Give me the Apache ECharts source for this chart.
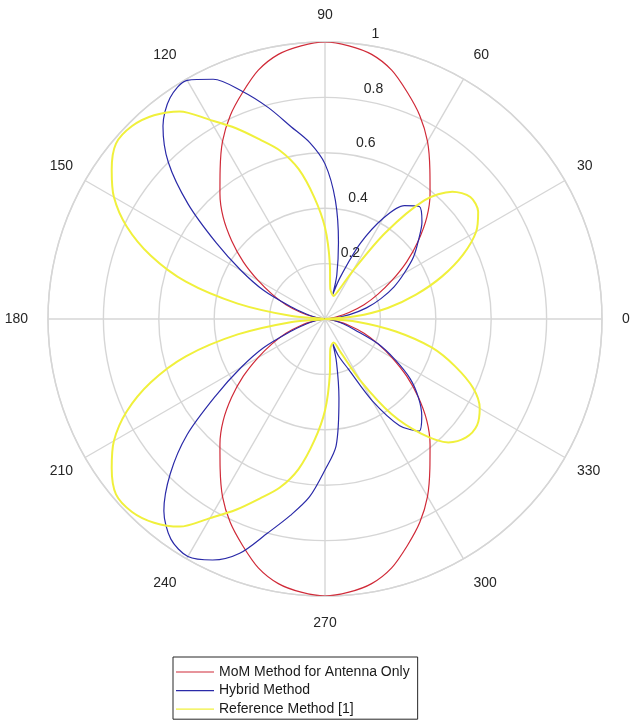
<!DOCTYPE html>
<html>
<head>
<meta charset="utf-8">
<script src="https://cdn.jsdelivr.net/npm/echarts@6/dist/echarts.min.js"></script>
<style>
html, body { margin: 0; padding: 0; background: #fff; }
#main { width: 633px; height: 721px; }
</style>
</head>
<body>
<div id="main"></div>
<script>
// angles in degrees, radius normalised to 1
var angles = [0,5,10,15,20,25,30,35,40,45,50,55,60,65,70,75,80,85,90,
  95,100,105,110,115,120,125,130,135,140,145,150,155,160,165,170,175,180,
  185,190,195,200,205,210,215,220,225,230,235,240,245,250,255,260,265,270,
  275,280,285,290,295,300,305,310,315,320,325,330,335,340,345,350,355,360];

// MoM Method for Antenna Only
var momR = [0,0.01,0.04,0.09,0.15,0.21,0.28,0.36,0.44,0.52,0.59,0.66,0.74,0.81,0.87,0.93,0.97,0.99,1.0,
  0.99,0.97,0.93,0.87,0.81,0.74,0.66,0.59,0.52,0.44,0.36,0.28,0.21,0.15,0.09,0.04,0.01,0,
  0.01,0.04,0.09,0.15,0.21,0.28,0.36,0.44,0.52,0.59,0.66,0.74,0.81,0.87,0.93,0.97,0.99,1.0,
  0.99,0.97,0.93,0.87,0.81,0.74,0.66,0.59,0.52,0.44,0.36,0.28,0.21,0.15,0.09,0.04,0.01,0];

// Hybrid Method (extra points at the two narrow nulls)
var hybridAngles = [0,5,10,15,20,25,30,35,40,45,50,55,60,65,70,72.5,75,80,85,90,
  95,100,105,110,115,120,125,130,135,140,145,150,155,160,165,170,175,180,
  185,190,195,200,205,210,215,220,225,230,235,240,245,250,255,260,265,270,
  275,280,285,287.5,290,295,300,305,310,315,320,325,330,335,340,345,350,355,360];
var hybridR = [0,0.035,0.09,0.155,0.215,0.275,0.33,0.39,0.44,0.495,0.53,0.5,0.42,0.3,0.16,0.093,0.165,0.28,0.43,0.56,
  0.64,0.705,0.79,0.875,0.955,0.995,0.975,0.91,0.8,0.645,0.48,0.35,0.245,0.135,0.07,0.035,0.012,0,
  0.012,0.035,0.07,0.135,0.245,0.35,0.48,0.65,0.79,0.905,0.97,0.99,0.96,0.9,0.8,0.72,0.645,0.545,
  0.46,0.29,0.16,0.094,0.14,0.2,0.34,0.47,0.528,0.494,0.44,0.375,0.29,0.21,0.115,0.07,0.035,0.01,0];

// Reference Method [1]
var refR = [0,0.11,0.23,0.34,0.45,0.55,0.63,0.675,0.685,0.65,0.56,0.38,0.2,0.11,0.088,0.095,0.11,0.2,0.33,
  0.44,0.55,0.63,0.69,0.76,0.83,0.915,0.96,0.985,0.985,0.94,0.88,0.79,0.67,0.52,0.32,0.12,0,
  0.12,0.32,0.52,0.67,0.79,0.88,0.94,0.985,0.985,0.96,0.915,0.83,0.76,0.69,0.63,0.55,0.44,0.33,
  0.2,0.11,0.095,0.09,0.13,0.26,0.42,0.54,0.63,0.665,0.67,0.645,0.59,0.5,0.4,0.26,0.12,0];

var seriesNames = ['MoM Method for Antenna Only', 'Hybrid Method', 'Reference Method [1]'];
var seriesColors = ['#d02a38', '#2a2aa8', '#f0f03c'];

function pairs(rs, as) {
  return as.map(function (a, i) { return [rs[i], a]; });
}

var font = 'Liberation Sans, Arial, Helvetica, sans-serif';
var textColor = '#262626';
var gridColor = '#d6d6d6';
var center = [325, 319];
var R = 277;

// label-only angle axis (no lines)
function labelAngleAxis(idx, start, margin, keep) {
  return {
    polarIndex: idx,
    type: 'value',
    min: 0, max: 360, interval: 30,
    startAngle: start,
    clockwise: false,
    axisLine: { show: false },
    axisTick: { show: false },
    splitLine: { show: false },
    axisLabel: {
      show: !!keep, margin: margin, color: textColor, fontSize: 14, fontFamily: font,
      formatter: function (v) { return keep && keep(v) ? String(v) : ''; }
    }
  };
}
function hiddenRadiusAxis(idx) {
  return {
    polarIndex: idx, type: 'value', min: 0, max: 1,
    axisLine: { show: false }, axisTick: { show: false },
    axisLabel: { show: false }, splitLine: { show: false }
  };
}

var chart = echarts.init(document.getElementById('main'));
var option = {
  backgroundColor: '#fff',
  animation: false,
  polar: [
    { center: center, radius: R },
    { center: center, radius: R },
    { center: center, radius: R }
  ],
  angleAxis: [{
    polarIndex: 0,
    type: 'value',
    min: 0, max: 360, interval: 30,
    startAngle: 0,
    clockwise: false,
    axisLine: { lineStyle: { color: gridColor, width: 1.4 } },
    axisTick: { show: false },
    splitLine: { lineStyle: { color: gridColor, width: 1.4 } },
    axisLabel: {
      margin: 20, color: textColor, fontSize: 14, fontFamily: font,
      formatter: function (v) { return v % 60 === 0 || v % 90 === 0 ? (v === 360 ? '' : String(v)) : ''; }
    }
  },
  // turns the radius tick labels to ~82 degrees
  labelAngleAxis(1, 82, 0, null),
  // 30/150/210/330 sit a little closer
  labelAngleAxis(2, 0, 14, function (v) { return v % 60 !== 0 && v % 90 !== 0; })
  ],
  radiusAxis: [{
    polarIndex: 0,
    type: 'value',
    min: 0, max: 1, interval: 0.2,
    axisLine: { show: false },
    axisTick: { show: false },
    axisLabel: { show: false },
    splitLine: { lineStyle: { color: gridColor, width: 1.4 } }
  }, {
    polarIndex: 1,
    type: 'value',
    min: 0, max: 1, interval: 0.2,
    axisLine: { show: false },
    axisTick: { show: false },
    splitLine: { show: false },
    axisLabel: {
      showMinLabel: false,
      margin: -8,
      align: 'left', verticalAlign: 'middle',
      formatter: function (v) { return '{t|' + v + '}'; },
      rich: {
        t: { color: textColor, fontSize: 14, fontFamily: font, padding: [0, 0, 24, 0] }
      }
    }
  },
  hiddenRadiusAxis(2)
  ],
  legend: {
    orient: 'vertical',
    left: 173, top: 657,
    padding: [8, 8, 3, 3],
    icon: 'rect',
    itemWidth: 38, itemHeight: 1.2, itemGap: 4.6,
    borderColor: '#262626', borderWidth: 1,
    backgroundColor: '#fff',
    textStyle: { fontSize: 14, color: '#1a1a1a', fontFamily: font, lineHeight: 14 },
    data: seriesNames
  },
  series: [{
    name: seriesNames[0],
    type: 'line', coordinateSystem: 'polar', polarIndex: 0,
    symbol: 'none', smooth: 0.3,
    lineStyle: { color: seriesColors[0], width: 1.2 },
    itemStyle: { color: seriesColors[0] },
    data: pairs(momR, angles)
  }, {
    name: seriesNames[1],
    type: 'line', coordinateSystem: 'polar', polarIndex: 0,
    symbol: 'none', smooth: 0.3,
    lineStyle: { color: seriesColors[1], width: 1.2 },
    itemStyle: { color: seriesColors[1] },
    data: pairs(hybridR, hybridAngles)
  }, {
    name: seriesNames[2],
    type: 'line', coordinateSystem: 'polar', polarIndex: 0,
    symbol: 'none', smooth: 0.3,
    lineStyle: { color: seriesColors[2], width: 2 },
    itemStyle: { color: seriesColors[2] },
    data: pairs(refR, angles)
  }]
};
chart.setOption(option);
</script>
</body>
</html>
